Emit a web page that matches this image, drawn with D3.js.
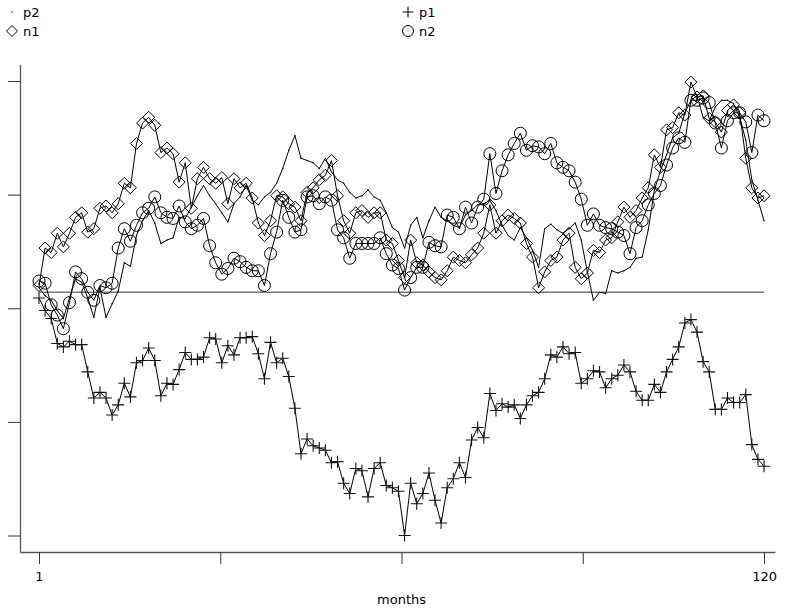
<!DOCTYPE html>
<html>
<head>
<meta charset="utf-8">
<script src="https://cdn.jsdelivr.net/npm/d3@7"></script>
<style>
  html, body { margin: 0; padding: 0; background: #fff; }
  svg { display: block; }
  text { font-family: "DejaVu Sans", Verdana, sans-serif; font-size: 13px; fill: #000; }
</style>
</head>
<body>
<svg id="chart" width="787" height="612"></svg>
<script>
// ---------- data (arbitrary units; y axis is unlabelled) ----------
const months = d3.range(1, 121);

const p2 = [18,11,7,-2,-9,9,26,23,9,-8,18,-8,4,15,40,37,64,77,86,75,
  57,60,62,80,79,89,99,108,99,92,84,76,92,98,108,95,91,98,102,110,
  123,139,152,132,130,128,123,132,120,113,110,102,97,99,104,98,95,84,71,67,
  53,73,80,62,77,89,80,77,73,71,82,86,91,92,95,86,73,64,60,71,
  62,51,36,70,74,69,66,70,75,60,32,7,14,13,33,31,33,36,44,45,
  69,104,121,135,150,154,172,183,187,168,165,177,183,183,180,168,148,113,95,77];

const p1 = [9,-2,-9,-31,-34,-29,-32,-32,-56,-79,-74,-79,-94,-85,-66,-78,-48,-46,-35,-46,
  -77,-66,-67,-54,-39,-45,-45,-43,-26,-27,-48,-33,-41,-26,-26,-25,-40,-62,-30,-48,
  -44,-60,-88,-128,-115,-121,-123,-125,-136,-135,-154,-163,-141,-143,-166,-141,-136,-156,-158,-161,
  -200,-154,-172,-163,-145,-169,-189,-158,-150,-136,-149,-116,-105,-114,-75,-90,-84,-87,-85,-97,
  -85,-77,-74,-62,-41,-43,-34,-40,-39,-66,-62,-55,-56,-70,-62,-59,-50,-56,-73,-81,
  -81,-67,-74,-56,-45,-34,-13,-10,-21,-47,-56,-89,-89,-79,-83,-83,-76,-120,-133,-139];

const n1 = [20,53,49,66,54,66,80,84,67,70,88,90,84,92,110,106,145,163,168,161,
  137,141,136,111,128,88,114,124,114,110,115,92,114,106,110,97,75,64,77,99,
  98,92,89,77,102,106,113,117,130,99,77,66,84,86,80,84,84,60,57,42,
  27,60,40,38,32,27,25,33,45,42,40,47,53,66,91,66,77,82,79,75,
  57,45,18,32,42,45,60,66,36,26,31,51,49,60,62,76,89,80,86,97,
  106,135,124,157,159,172,170,199,186,187,167,164,155,174,179,172,132,106,97,99];

const n2 = [24,22,3,-6,-18,5,32,26,14,7,20,18,22,53,70,59,73,84,88,98,
  84,80,79,90,76,70,73,79,55,40,30,35,44,41,36,33,33,20,48,67,
  95,80,67,69,98,99,92,98,95,69,62,44,57,57,57,57,62,48,38,35,
  16,27,36,36,58,55,54,82,80,70,89,75,89,96,136,101,121,135,145,154,
  139,143,142,136,145,128,124,121,111,96,73,83,73,71,70,67,64,48,71,77,
  91,101,108,126,141,150,146,183,183,185,181,163,141,165,172,172,164,137,170,165];

const refLevel = 14;            // horizontal reference line
const yTicks = [-200, -100, 0, 100, 200];
const xTicks = [1, 30.75, 60.5, 90.25, 120];
const xTickLabels = {1: "1", 120: "120"};
const xTitle = "months";

// ---------- layout ----------
const svg = d3.select("#chart");
const x = d3.scaleLinear().domain([-2.12, 121.8]).range([20, 775]);
const y = d3.scaleLinear().domain([-214.5, 214.5]).range([552, 64.5]);

const axisColor = "#555";

// axes
const gx = svg.append("g").attr("transform", "translate(0,552)")
  .call(d3.axisBottom(x).tickValues(xTicks).tickSize(12).tickSizeOuter(0)
    .tickFormat(d => xTickLabels[d] || ""));
const gy = svg.append("g").attr("transform", "translate(20,0)")
  .call(d3.axisLeft(y).tickValues(yTicks).tickSize(12).tickSizeOuter(0).tickFormat(""));
[gx, gy].forEach(g => {
  g.select(".domain").attr("stroke", axisColor).attr("stroke-width", 1.3);
  g.selectAll(".tick line").attr("stroke", "#333").attr("stroke-width", 1);
});
gx.selectAll(".tick text").attr("dy", "1.05em")
  .style("font-family", '"DejaVu Sans", Verdana, sans-serif').style("font-size", "13px").attr("fill", "#000");

svg.append("text").attr("x", x(60.5)).attr("y", 604).attr("text-anchor", "middle").text(xTitle);

// reference line
svg.append("line")
  .attr("x1", x(1)).attr("x2", x(120))
  .attr("y1", y(refLevel)).attr("y2", y(refLevel))
  .attr("stroke", "#777").attr("stroke-width", 1.5);

// series
const line = d3.line().x((d, i) => x(months[i])).y(d => y(d));
const seriesList = [
  {name: "p2", data: p2, marker: "dot"},
  {name: "p1", data: p1, marker: "plus"},
  {name: "n1", data: n1, marker: "diamond"},
  {name: "n2", data: n2, marker: "circle"}
];

function drawMarker(sel, type, s) {
  if (type === "circle") {
    sel.append("circle").attr("r", s).attr("fill", "none").attr("stroke", "#000").attr("stroke-width", 1);
  } else if (type === "diamond") {
    sel.append("path").attr("d", `M0,${-s}L${s},0L0,${s}L${-s},0Z`)
      .attr("fill", "none").attr("stroke", "#000").attr("stroke-width", 1);
  } else if (type === "plus") {
    sel.append("path").attr("d", `M${-s},0H${s}M0,${-s}V${s}`)
      .attr("fill", "none").attr("stroke", "#111").attr("stroke-width", 1.1);
  } else {
    sel.append("circle").attr("r", 0.7).attr("fill", "#000");
  }
}

seriesList.forEach(sr => {
  svg.append("path").datum(sr.data).attr("d", line)
    .attr("fill", "none").attr("stroke", "#000").attr("stroke-width", 1);
  const g = svg.append("g");
  g.selectAll("g.m").data(sr.data).join("g").attr("class", "m")
    .attr("transform", (d, i) => `translate(${x(months[i])},${y(d)})`)
    .each(function() { drawMarker(d3.select(this), sr.marker, 6); });
});

// legend
const legend = [
  {name: "p2", marker: "dot", lx: 12, ly: 12},
  {name: "p1", marker: "plus", lx: 408, ly: 12},
  {name: "n1", marker: "diamond", lx: 12, ly: 31},
  {name: "n2", marker: "circle", lx: 408, ly: 31}
];
legend.forEach(l => {
  const g = svg.append("g").attr("transform", `translate(${l.lx},${l.ly})`);
  drawMarker(g, l.marker, 5.5);
  g.append("text").attr("x", 11).attr("y", 0).attr("dy", "0.35em").text(l.name);
});
</script>
</body>
</html>
